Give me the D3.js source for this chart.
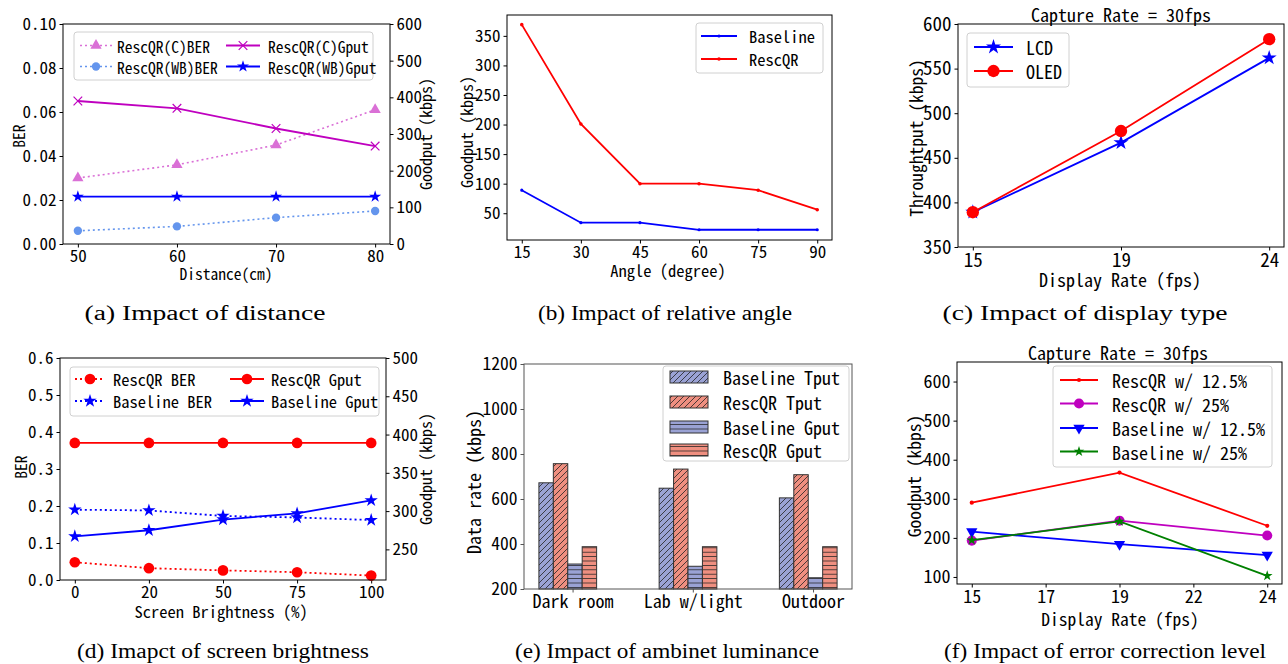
<!DOCTYPE html>
<html><head><meta charset="utf-8">
<script src="https://cdn.jsdelivr.net/npm/d3@7"></script>
<style>body{margin:0;background:#fff}</style>
</head><body>
<script>
// ---------------- DATA ----------------
// (a) Impact of distance
const aDistance = [50, 60, 70, 80];
const aCBer = [0.030, 0.036, 0.045, 0.061];
const aWBBer = [0.006, 0.008, 0.012, 0.015];
const aCGput = [390, 370, 315, 267];
const aWBGput = [129, 129, 129, 129];
// (b) Impact of relative angle
const bAngle = [15, 30, 45, 60, 75, 90];
const bBaseline = [89, 34, 34, 22, 22, 22];
const bRescQR = [369, 201, 100, 100, 89, 56];
// (c) Impact of display type
const cRates = ["15", "19", "24"];
const cLCD = [389, 467, 562];
const cOLED = [389, 480, 583];
// (d) Impact of screen brightness
const dBright = ["0", "20", "50", "75", "100"];
const dRescBer = [0.048, 0.032, 0.026, 0.021, 0.012];
const dBaseBer = [0.190, 0.188, 0.173, 0.169, 0.162];
const dRescGput = [389, 389, 389, 389, 389];
const dBaseGput = [267, 275, 289, 297, 314];
// (e) Impact of ambient luminance
const eCats = ["Dark room", "Lab w/light", "Outdoor"];
const eBaseT = [672, 648, 605];
const eRescT = [757, 733, 708];
const eBaseG = [311, 301, 250];
const eRescG = [388, 388, 388];
// (f) Impact of error correction level
const fTicks = ["15", "17", "19", "22", "24"];
const fIdx = [0, 2, 4]; // 15, 19, 24
const fResc125 = [290, 367, 231];
const fResc25 = [193, 244, 206];
const fBase125 = [216, 184, 156];
const fBase25 = [194, 242, 103];
const captions = ["(a) Impact of distance", "(b) Impact of relative angle", "(c) Impact of display type",
  "(d) Imapct of screen brightness", "(e) Impact of ambinet luminance", "(f) Impact of error correction level"];

// ---------------- HELPERS ----------------
const W = 1288, H = 664;
const FONT = "'Noto Sans Mono CJK SC','Noto Sans CJK SC',monospace";
const SERIF = "'Liberation Serif','DejaVu Serif',serif";
const svg = d3.select("body").append("svg").attr("width", W).attr("height", H);
svg.append("rect").attr("width", W).attr("height", H).attr("fill", "#fff");
const defs = svg.append("defs");
const hd = defs.append("pattern").attr("id", "hdiag").attr("patternUnits", "userSpaceOnUse").attr("width", 6).attr("height", 6);
hd.append("path").attr("d", "M-1,1 l2,-2 M0,6 l6,-6 M5,7 l2,-2").attr("stroke", "#222").attr("stroke-width", 0.8);
const hh = defs.append("pattern").attr("id", "hhor").attr("patternUnits", "userSpaceOnUse").attr("width", 6).attr("height", 4.4);
hh.append("path").attr("d", "M0,2.2 H6").attr("stroke", "#222").attr("stroke-width", 0.8);

function styleAxis(sel, fs, color) {
  sel.select(".domain").remove();
  sel.selectAll(".tick line").attr("stroke", color || "#000");
  sel.selectAll(".tick text").attr("font-family", FONT).attr("font-size", fs).attr("fill", "#000");
}
function frame(o) {
  svg.append("rect").attr("x", o.x0).attr("y", o.y0).attr("width", o.x1 - o.x0).attr("height", o.y1 - o.y0)
    .attr("fill", "none").attr("stroke", o.frameColor || "#000").attr("stroke-width", 1);
}
function axisBottom(o, scale, vals, fmt, fs) {
  const g = svg.append("g").attr("transform", `translate(0,${o.y1})`)
    .call(d3.axisBottom(scale).tickValues(vals).tickFormat(fmt).tickSize(3.5).tickPadding(2.5));
  styleAxis(g, fs, o.frameColor);
  return g;
}
function axisLeft(o, scale, vals, fmt, fs) {
  const g = svg.append("g").attr("transform", `translate(${o.x0},0)`)
    .call(d3.axisLeft(scale).tickValues(vals).tickFormat(fmt).tickSize(3.5).tickPadding(3));
  styleAxis(g, fs, o.frameColor);
  return g;
}
function axisRight(o, scale, vals, fmt, fs) {
  const g = svg.append("g").attr("transform", `translate(${o.x1},0)`)
    .call(d3.axisRight(scale).tickValues(vals).tickFormat(fmt).tickSize(3.5).tickPadding(3));
  styleAxis(g, fs);
  return g;
}
function text(x, y, t, fs, opts = {}) {
  const e = svg.append("text").attr("x", x).attr("y", y).text(t)
    .attr("font-family", opts.family || FONT).attr("font-size", fs)
    .attr("text-anchor", opts.anchor || "middle").attr("dominant-baseline", "central").attr("fill", "#000");
  if (opts.rotate) e.attr("transform", `rotate(${opts.rotate},${x},${y})`);
  if (opts.len) e.attr("textLength", opts.len).attr("lengthAdjust", "spacingAndGlyphs");
  return e;
}
function symbolPath(m) {
  const types = { tri: d3.symbolTriangle, tridown: d3.symbolTriangle, circle: d3.symbolCircle, star: d3.symbolStar, x: d3.symbolTimes };
  return d3.symbol(types[m.shape], m.size)();
}
function drawMarker(g, cx, cy, s) {
  const p = g.append("path").attr("d", symbolPath(s.marker))
    .attr("transform", `translate(${cx},${cy})` + (s.marker.shape === "tridown" ? " rotate(180)" : ""));
  if (s.marker.shape === "x") p.attr("fill", "none").attr("stroke", s.color).attr("stroke-width", 1.2);
  else p.attr("fill", s.color).attr("stroke", "none");
}
function series(xs, ys, xScale, yScale, s) {
  const g = svg.append("g");
  const pts = ys.map((v, i) => [xScale(xs[i]), yScale(v)]);
  g.append("path").attr("d", d3.line()(pts)).attr("fill", "none").attr("stroke", s.color)
    .attr("stroke-width", s.width || 1.8).attr("stroke-dasharray", s.dash || null);
  pts.forEach(p => drawMarker(g, p[0], p[1], s));
}
function legendBox(x, y, w, h) {
  svg.append("rect").attr("x", x).attr("y", y).attr("width", w).attr("height", h).attr("rx", 3)
    .attr("fill", "#fff").attr("fill-opacity", 0.8).attr("stroke", "#d0d0d0").attr("stroke-width", 1);
}
function legendLine(x0, x1, y, tx, s, label, fs) {
  const g = svg.append("g");
  g.append("line").attr("x1", x0).attr("x2", x1).attr("y1", y).attr("y2", y).attr("stroke", s.color)
    .attr("stroke-width", s.width || 1.8).attr("stroke-dasharray", s.dash || null);
  drawMarker(g, (x0 + x1) / 2, y, s);
  text(tx, y, label, fs, { anchor: "start" });
}

// ---------------- (a) ----------------
{
  const o = { x0: 63, x1: 390, y0: 24, y1: 244 };
  const x = d3.scaleLinear().domain([48.5, 81.5]).range([o.x0, o.x1]);
  const yL = d3.scaleLinear().domain([0, 0.1]).range([o.y1, o.y0]);
  const yR = d3.scaleLinear().domain([0, 600]).range([o.y1, o.y0]);
  axisBottom(o, x, aDistance, d3.format("d"), 17);
  axisLeft(o, yL, d3.range(0, 0.1001, 0.02), d3.format(".2f"), 17);
  axisRight(o, yR, d3.range(0, 601, 100), d3.format("d"), 17);
  const sCB = { color: "#da70d6", dash: "2,3", width: 1.6, marker: { shape: "tri", size: 55 } };
  const sWB = { color: "#6495ed", dash: "2,3", width: 1.6, marker: { shape: "circle", size: 55 } };
  const sCG = { color: "#bf00bf", marker: { shape: "x", size: 50 } };
  const sWG = { color: "#0000ff", marker: { shape: "star", size: 45 } };
  series(aDistance, aCBer, x, yL, sCB);
  series(aDistance, aWBBer, x, yL, sWB);
  series(aDistance, aCGput, x, yR, sCG);
  series(aDistance, aWBGput, x, yR, sWG);
  frame(o);
  legendBox(74, 32, 299, 48);
  legendLine(80, 112, 45.5, 117, sCB, "RescQR(C)BER", 15.5);
  legendLine(80, 112, 66.5, 117, sWB, "RescQR(WB)BER", 15.5);
  legendLine(226, 260, 45.5, 268, sCG, "RescQR(C)Gput", 15.5);
  legendLine(226, 260, 66.5, 268, sWG, "RescQR(WB)Gput", 15.5);
  text(18, 136, "BER", 15.5, { rotate: -90 });
  text(425, 134, "Goodput (kbps)", 16, { rotate: -90 });
  text(226, 273, "Distance(cm)", 15.5);
}
// ---------------- (b) ----------------
{
  const o = { x0: 507, x1: 832, y0: 15, y1: 240 };
  const x = d3.scaleLinear().domain([11.25, 93.75]).range([o.x0, o.x1]);
  const y = d3.scaleLinear().domain([4.7, 385.3]).range([o.y1, o.y0]);
  axisBottom(o, x, bAngle, d3.format("d"), 17);
  axisLeft(o, y, d3.range(50, 351, 50), d3.format("d"), 17);
  const sB = { color: "#0000ff", marker: { shape: "circle", size: 8 } };
  const sR = { color: "#ff0000", marker: { shape: "circle", size: 10 } };
  series(bAngle, bBaseline, x, y, sB);
  series(bAngle, bRescQR, x, y, sR);
  frame(o);
  legendBox(696, 23, 127, 50);
  legendLine(701, 737, 36, 749, sB, "Baseline", 16.5);
  legendLine(701, 737, 59, 749, sR, "RescQR", 16.5);
  text(466, 132, "Goodput (kbps)", 16, { rotate: -90 });
  text(668, 270, "Angle (degree)", 16.5);
}
// ---------------- (c) ----------------
{
  const o = { x0: 958, x1: 1284, y0: 24, y1: 247 };
  const x = d3.scaleLinear().domain([-0.1, 2.1]).range([o.x0, o.x1]);
  const y = d3.scaleLinear().domain([350, 600]).range([o.y1, o.y0]);
  const idx = cRates.map((d, i) => i);
  axisBottom(o, x, idx, i => cRates[i], 19);
  axisLeft(o, y, d3.range(350, 601, 50), d3.format("d"), 19);
  const sL = { color: "#0000ff", marker: { shape: "star", size: 70 } };
  const sO = { color: "#ff0000", marker: { shape: "circle", size: 120 } };
  series(idx, cLCD, x, y, sL);
  series(idx, cOLED, x, y, sO);
  frame(o);
  legendBox(967, 33, 102, 54);
  legendLine(974, 1013, 47, 1026, sL, "LCD", 18);
  legendLine(974, 1013, 71, 1026, sO, "OLED", 18);
  text(1121, 14, "Capture Rate = 30fps", 18);
  text(915, 138, "Throughtput (kbps)", 17.5, { rotate: -90 });
  text(1120, 279, "Display Rate (fps)", 18);
}
// ---------------- (d) ----------------
{
  const o = { x0: 60, x1: 386, y0: 358, y1: 580 };
  const x = d3.scaleLinear().domain([-0.2, 4.2]).range([o.x0, o.x1]);
  const yL = d3.scaleLinear().domain([0, 0.6]).range([o.y1, o.y0]);
  const yR = d3.scaleLinear().domain([210, 500]).range([o.y1, o.y0]);
  const idx = dBright.map((d, i) => i);
  axisBottom(o, x, idx, i => dBright[i], 17);
  axisLeft(o, yL, d3.range(0, 0.601, 0.1), d3.format(".1f"), 17);
  axisRight(o, yR, d3.range(250, 501, 50), d3.format("d"), 17);
  const sRB = { color: "#ff0000", dash: "2,3", marker: { shape: "circle", size: 90 } };
  const sBB = { color: "#0000ff", dash: "2,3", marker: { shape: "star", size: 55 } };
  const sRG = { color: "#ff0000", marker: { shape: "circle", size: 90 } };
  const sBG = { color: "#0000ff", marker: { shape: "star", size: 55 } };
  series(idx, dRescBer, x, yL, sRB);
  series(idx, dBaseBer, x, yL, sBB);
  series(idx, dRescGput, x, yR, sRG);
  series(idx, dBaseGput, x, yR, sBG);
  frame(o);
  legendBox(70, 367, 309, 49);
  legendLine(75, 105, 379, 113, sRB, "RescQR BER", 16.5);
  legendLine(75, 105, 401, 113, sBB, "Baseline BER", 16.5);
  legendLine(230, 264, 379, 271, sRG, "RescQR Gput", 16.5);
  legendLine(230, 264, 401, 271, sBG, "Baseline Gput", 16.5);
  text(20, 467, "BER", 15.5, { rotate: -90 });
  text(425, 469, "Goodput (kbps)", 16, { rotate: -90 });
  text(221, 611, "Screen Brightness (%)", 16.5);
}
// ---------------- (e) ----------------
{
  const o = { x0: 524, x1: 852, y0: 364, y1: 589, frameColor: "#555" };
  const bw = 0.12;
  const x = d3.scaleLinear().domain([-0.184, 2.544]).range([o.x0, o.x1]);
  const y = d3.scaleLinear().domain([200, 1200]).range([o.y1, o.y0]);
  const idx = eCats.map((d, i) => i);
  axisBottom(o, x, idx.map(i => i + 0.22), (d, i) => eCats[i], 18);
  axisLeft(o, y, d3.range(200, 1201, 200), d3.format("d"), 17.5);
  const sets = [
    { vals: eBaseT, fill: "#9aa2d4", hatch: "hdiag" },
    { vals: eRescT, fill: "#ef8f80", hatch: "hdiag" },
    { vals: eBaseG, fill: "#9aa2d4", hatch: "hhor" },
    { vals: eRescG, fill: "#ef8f80", hatch: "hhor" }];
  sets.forEach((s, k) => {
    const g = svg.append("g");
    s.vals.forEach((v, i) => {
      const xl = x(i + k * bw - bw / 2), xr = x(i + k * bw + bw / 2);
      const rx = { x: xl, y: y(v), width: xr - xl, height: y(200) - y(v) };
      g.append("rect").attr("x", rx.x).attr("y", rx.y).attr("width", rx.width).attr("height", rx.height).attr("fill", s.fill);
      g.append("rect").attr("x", rx.x).attr("y", rx.y).attr("width", rx.width).attr("height", rx.height)
        .attr("fill", `url(#${s.hatch})`).attr("stroke", "#333").attr("stroke-width", 1);
    });
  });
  frame(o);
  legendBox(663, 366, 186, 95);
  const names = ["Baseline Tput", "RescQR Tput", "Baseline Gput", "RescQR Gput"];
  const rows = [377, 402, 427, 450];
  sets.forEach((s, k) => {
    svg.append("rect").attr("x", 670).attr("y", rows[k] - 6).attr("width", 38).attr("height", 12).attr("fill", s.fill);
    svg.append("rect").attr("x", 670).attr("y", rows[k] - 6).attr("width", 38).attr("height", 12)
      .attr("fill", `url(#${s.hatch})`).attr("stroke", "#333").attr("stroke-width", 1);
    text(723, rows[k], names[k], 18, { anchor: "start" });
  });
  text(473, 482, "Data rate (kbps)", 18, { rotate: -90 });
}
// ---------------- (f) ----------------
{
  const o = { x0: 957, x1: 1282, y0: 362, y1: 584 };
  const x = d3.scaleLinear().domain([-0.2, 4.2]).range([o.x0, o.x1]);
  const y = d3.scaleLinear().domain([82, 650]).range([o.y1, o.y0]);
  axisBottom(o, x, fTicks.map((d, i) => i), i => fTicks[i], 18);
  axisLeft(o, y, d3.range(100, 601, 100), d3.format("d"), 18);
  const s1 = { color: "#ff0000", marker: { shape: "circle", size: 14 } };
  const s2 = { color: "#bf00bf", marker: { shape: "circle", size: 80 } };
  const s3 = { color: "#0000ff", marker: { shape: "tridown", size: 55 } };
  const s4 = { color: "#008000", marker: { shape: "star", size: 35 } };
  series(fIdx, fResc125, x, y, s1);
  series(fIdx, fResc25, x, y, s2);
  series(fIdx, fBase125, x, y, s3);
  series(fIdx, fBase25, x, y, s4);
  frame(o);
  legendBox(1053, 366, 219, 101);
  legendLine(1060, 1098, 380, 1112, s1, "RescQR w/ 12.5%", 18);
  legendLine(1060, 1098, 403.5, 1112, s2, "RescQR w/ 25%", 18);
  legendLine(1060, 1098, 428, 1112, s3, "Baseline w/ 12.5%", 18);
  legendLine(1060, 1098, 451.5, 1112, s4, "Baseline w/ 25%", 18);
  text(1118, 352, "Capture Rate = 30fps", 18);
  text(913, 476, "Goodput (kbps)", 17.5, { rotate: -90 });
  text(1120, 618, "Display Rate (fps)", 17.5);
}
// ---------------- captions ----------------
const capPos = [[205, 313, 241], [665, 313, 254], [1085, 313, 285], [223, 651, 292], [667, 651, 304], [1105, 651, 322]];
captions.forEach((c, i) => text(capPos[i][0], capPos[i][1], c, 20, { family: SERIF, len: capPos[i][2] }));
</script>
</body></html>
